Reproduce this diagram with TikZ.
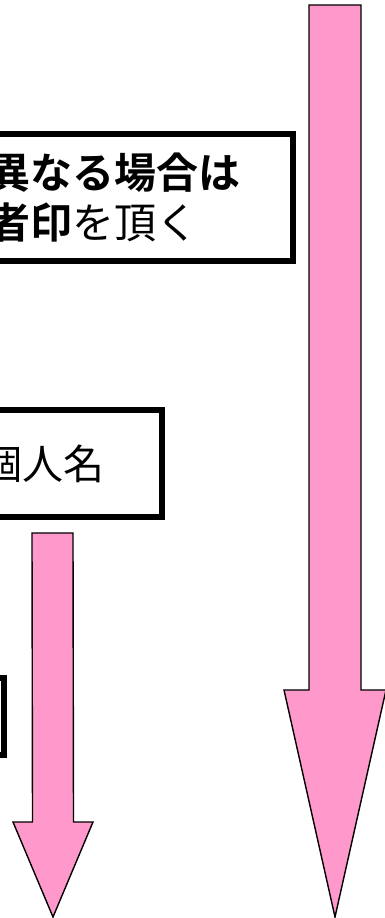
\documentclass[tikz,border=0pt]{standalone}
\usepackage{fontspec}
\setmainfont{Noto Sans CJK JP}[BoldFont={Noto Sans CJK JP Bold}]
\usetikzlibrary{calc}
\definecolor{arrowpink}{HTML}{FF99CC}

\begin{document}
\begin{tikzpicture}[
  x=1pt, y=1pt,
  font=\fontsize{41}{50}\selectfont,
  % framed boxes, cut by the left edge
  box/.style = {
    draw, line width=6pt,
    align=left,
    inner ysep=0pt, outer sep=0pt,
    anchor=east
  },
  blockarrow/.style = {
    draw, line width=1.4pt,
    fill=arrowpink
  }
]

% ---- frame ----
\useasboundingbox (0,0) rectangle (385,918);
\clip (0,0) rectangle (385,918);

% ---- nodes ----
% Top box
\node[box, font=\fontsize{42}{50}\selectfont, inner xsep=48pt, text width=257pt, minimum height=127pt] (stamp) at (293,720.5) {\textbf{異なる場合は}\\
\textbf{者印}を頂く};

% Middle box
\node[box, inner xsep=42pt, text width=137.5pt, minimum height=106.5pt] (name) at (161.5,454.25) {個人名};

% Lower box, only its right side shows
\node[box, minimum width=64pt, minimum height=77pt] (side) at (4,201.5) {};

% ---- arrows ----
\coordinate (longtop)  at (335,913);
\coordinate (longtip)  at (335,1);
\coordinate (shorttop) at ($(name.south east)+(-109,-16)$);
\coordinate (shorttip) at (53,1);

% long arrow on the right
\draw[blockarrow] ($(longtop)+(-26,0)$) -- ($(longtop)+(26,0)$)
  -- ($(longtip)+(26,227)$) -- ($(longtip)+(51,227)$) -- (longtip)
  -- ($(longtip)+(-51,227)$) -- ($(longtip)+(-26,227)$) -- cycle;

% short arrow under the middle box
\draw[blockarrow] ($(shorttop)+(-20.5,0)$) -- ($(shorttop)+(20.5,0)$)
  -- ($(shorttip)+(20.5,95)$) -- ($(shorttip)+(40,95)$) -- (shorttip)
  -- ($(shorttip)+(-40,95)$) -- ($(shorttip)+(-20.5,95)$) -- cycle;

\end{tikzpicture}
\end{document}
